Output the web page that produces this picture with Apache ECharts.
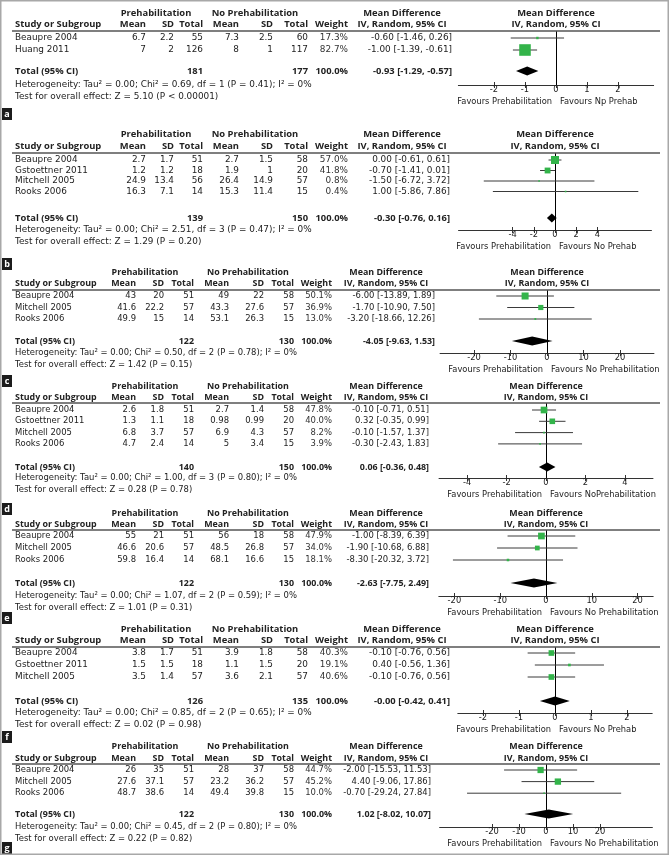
<!DOCTYPE html>
<html>
<head>
<meta charset="utf-8">
<script src="https://cdn.jsdelivr.net/npm/echarts@6/dist/echarts.min.js"></script>
<style>
html,body{margin:0;padding:0;background:#fff;}
#chart{width:669px;height:855px;}
</style>
</head>
<body>
<div id="chart"></div>
<script>
// ---------------- DATA ----------------
const panelLetters = ['a','b','c','d','e','f','g'];
const studies = [
  ['Beaupre 2004','Huang 2011'],
  ['Beaupre 2004','Gstoettner 2011','Mitchell 2005','Rooks 2006'],
  ['Beaupre 2004','Mitchell 2005','Rooks 2006'],
  ['Beaupre 2004','Gstoettner 2011','Mitchell 2005','Rooks 2006'],
  ['Beaupre 2004','Mitchell 2005','Rooks 2006'],
  ['Beaupre 2004','Gstoettner 2011','Mitchell 2005'],
  ['Beaupre 2004','Mitchell 2005','Rooks 2006']
];
const preMean = [[6.7,7],[2.7,1.2,24.9,16.3],[43,41.6,49.9],[2.6,1.3,6.8,4.7],[55,46.6,59.8],[3.8,1.5,3.5],[26,27.6,48.7]];
const preSD   = [[2.2,2],[1.7,1.2,13.4,7.1],[20,22.2,15],[1.8,1.1,3.7,2.4],[21,20.6,16.4],[1.7,1.5,1.4],[35,37.1,38.6]];
const preN    = [[55,126],[51,18,56,14],[51,57,14],[51,18,57,14],[51,57,14],[51,18,57],[51,57,14]];
const noMean  = [[7.3,8],[2.7,1.9,26.4,15.3],[49,43.3,53.1],[2.7,0.98,6.9,5],[56,48.5,68.1],[3.9,1.1,3.6],[28,23.2,49.4]];
const noSD    = [[2.5,1],[1.5,1,14.9,11.4],[22,27.6,26.3],[1.4,0.99,4.3,3.4],[18,26.8,16.6],[1.8,1.5,2.1],[37,36.2,39.8]];
const noN     = [[60,117],[58,20,57,15],[58,57,15],[58,20,57,15],[58,57,15],[58,20,57],[58,57,15]];
const weights = [[17.3,82.7],[57.0,41.8,0.8,0.4],[50.1,36.9,13.0],[47.8,40.0,8.2,3.9],[47.9,34.0,18.1],[40.3,19.1,40.6],[44.7,45.2,10.0]];
const md      = [[-0.60,-1.00],[0.00,-0.70,-1.50,1.00],[-6.00,-1.70,-3.20],[-0.10,0.32,-0.10,-0.30],[-1.00,-1.90,-8.30],[-0.10,0.40,-0.10],[-2.00,4.40,-0.70]];
const ciLo    = [[-1.46,-1.39],[-0.61,-1.41,-6.72,-5.86],[-13.89,-10.90,-18.66],[-0.71,-0.35,-1.57,-2.43],[-8.39,-10.68,-20.32],[-0.76,-0.56,-0.76],[-15.53,-9.06,-29.24]];
const ciHi    = [[0.26,-0.61],[0.61,0.01,3.72,7.86],[1.89,7.50,12.26],[0.51,0.99,1.37,1.83],[6.39,6.88,3.72],[0.56,1.36,0.56],[11.53,17.86,27.84]];
const totalPreN = [181,139,122,140,122,126,122];
const totalNoN  = [177,150,130,150,130,135,130];
const totalMd   = [-0.93,-0.30,-4.05,0.06,-2.63,-0.00,1.02];
const totalLo   = [-1.29,-0.76,-9.63,-0.36,-7.75,-0.42,-8.02];
const totalHi   = [-0.57,0.16,1.53,0.48,2.49,0.41,10.07];
const tau2  = [0,0,0,0,0,0,0];
const chi2  = [0.69,2.51,0.50,1.00,1.07,0.85,0.45];
const dfHet = [1,3,2,3,2,2,2];
const pHet  = [0.41,0.47,0.78,0.80,0.59,0.65,0.80];
const i2    = [0,0,0,0,0,0,0];
const zVal  = [5.10,1.29,1.42,0.28,1.01,0.02,0.22];
const pZ    = [0.00001,0.20,0.15,0.78,0.31,0.98,0.82];
const axisTicks = [[-2,-1,0,1,2],[-4,-2,0,2,4],[-20,-10,0,10,20],[-4,-2,0,2,4],[-20,-10,0,10,20],[-2,-1,0,1,2],[-20,-10,0,10,20]];
const axisMin = [-3.15,-9.1,-29.3,-5.43,-23.4,-2.7,-39.4];
const axisMax = [3.15,9.1,29.3,5.43,23.4,2.7,39.4];
const favoursLeft  = ['Favours Prehabilitation','Favours Prehabilitation','Favours Prehabilitation','Favours Prehabilitation','Favours Prehabilitation','Favours Prehabilitation','Favours Prehabilitation'];
const favoursRight = ['Favours Np Prehab','Favours No Prehab','Favours No Prehabilitation','Favours NoPrehabilitation','Favours No Prehabilitation','Favours No Prehab','Favours No Prehabilitation'];

// ---------------- LAYOUT (pixels / styles) ----------------
const colWide   = {study:15, preMean:146, preSD:174, preN:203, noMean:239, noSD:273, noN:308, weight:348, h1Pre:156, h1No:255, ciCenter:402, fs:8.9, fb:9.4};
const colNarrow = {study:15, preMean:136, preSD:164, preN:194, noMean:229, noSD:264, noN:294, weight:332, h1Pre:145, h1No:248, ciCenter:386, fs:8.45, fb:8.9};
const layout = [
  {cols:colWide,   h1:13,  h2:24,  line:31,  row0:38,  step:12,   total:71,  het:85,  label:114, zero:556, ppu:31,   ciR:452},
  {cols:colWide,   h1:134, h2:146, line:153, row0:160, step:10.5, total:218, het:230, label:264, zero:555, ppu:10.6, ciR:450},
  {cols:colNarrow, h1:272, h2:283, line:290, row0:296, step:11.5, total:341, het:353, label:381, zero:547, ppu:3.65, ciR:435},
  {cols:colNarrow, h1:386, h2:397, line:403, row0:410, step:11.3, total:467, het:478, label:509, zero:546, ppu:19.7, ciR:429},
  {cols:colNarrow, h1:513, h2:524, line:530, row0:536, step:12,   total:583, het:596, label:618, zero:546, ppu:4.58, ciR:429},
  {cols:colWide,   h1:629, h2:640, line:647, row0:653, step:12,   total:701, het:713, label:737, zero:555, ppu:36,   ciR:450},
  {cols:colNarrow, h1:746, h2:758, line:764, row0:770, step:11.6, total:814, het:827, label:848, zero:546, ppu:2.7,  ciR:431}
];
const FONT_N = '"DejaVu Sans", sans-serif';
const FONT_B = '"Open Sans", "Noto Sans", sans-serif';
const GREEN = '#33b44a';
const TXT = '#222';

function f2(v){ const neg = v < 0 || Object.is(v,-0); return (neg?'-':'') + Math.abs(v).toFixed(2); }
function ciText(m,l,h){ return f2(m) + ' [' + f2(l) + ', ' + f2(h) + ']'; }
function T(x,y,text,fs,align,bold,color,z){
  return {type:'text', x:x, y:y, silent:true, z:z||10,
    style:{text:text, fill:color||TXT, font:(bold?'bold ':'') + fs + 'px ' + (bold?FONT_B:FONT_N),
      textAlign:align||'left', textVerticalAlign:'middle', align:align||'left', verticalAlign:'middle'}};
}

const grids=[], xAxes=[], yAxes=[], series=[], graphics=[];

graphics.push({type:'rect', silent:true, z:20, shape:{x:0.75,y:0.75,width:667.5,height:853.5}, style:{fill:'none', stroke:'#a8a8a8', lineWidth:1.5}});

layout.forEach((L,p)=>{
  const C = L.cols, fs = C.fs, fb = C.fb;
  const gl = L.zero + axisMin[p]*L.ppu;
  const gw = (axisMax[p]-axisMin[p])*L.ppu;
  const pc = gl + gw/2;
  grids.push({left:gl, top:L.line, width:gw, height:L.het-L.line, containLabel:false});
  xAxes.push({gridIndex:p, type:'value', min:axisMin[p], max:axisMax[p], position:'bottom',
    axisLine:{show:true, onZero:false, lineStyle:{color:'#333', width:1}},
    axisTick:{show:true, customValues:axisTicks[p], length:3, inside:false, lineStyle:{color:'#333'}},
    axisLabel:{show:true, customValues:axisTicks[p], margin:1, fontSize:8.3, fontFamily:'DejaVu Sans', color:TXT, formatter:v=>String(v)},
    splitLine:{show:false}});
  xAxes.push({gridIndex:p, type:'value', min:axisMin[p], max:axisMax[p], position:'bottom',
    axisLine:{show:false, onZero:false},
    axisTick:{show:true, customValues:axisTicks[p], length:3, inside:true, lineStyle:{color:'#333'}},
    axisLabel:{show:false}, splitLine:{show:false}});
  yAxes.push({gridIndex:p, type:'value', inverse:true, show:false,
    min:(L.line-L.row0)/L.step, max:(L.het-L.row0)/L.step});
  const totalRow = (L.total-L.row0)/L.step;

  const sData = studies[p].map((s,i)=>[md[p][i], ciLo[p][i], ciHi[p][i], i, weights[p][i]]);
  series.push({type:'custom', xAxisIndex:2*p, yAxisIndex:p, data:sData, silent:true, z:5,
    renderItem:function(params, api){
      const m=api.value(0), lo=api.value(1), hi=api.value(2), r=api.value(3), w=api.value(4);
      const a=api.coord([lo,r]), b=api.coord([hi,r]), c=api.coord([m,r]);
      const s=Math.max(1.6, w*0.14);
      return {type:'group', children:[
        {type:'line', shape:{x1:a[0],y1:a[1],x2:b[0],y2:b[1]}, style:{stroke:'#3a3a3a', lineWidth:1}},
        {type:'rect', shape:{x:c[0]-s/2,y:c[1]-s/2,width:s,height:s}, style:{fill:GREEN}}
      ]};
    },
    markLine:{silent:true, symbol:['none','none'], label:{show:false}, lineStyle:{color:'#000', width:1, type:'solid'},
      data:[{xAxis:0}]}
  });
  series.push({type:'custom', xAxisIndex:2*p, yAxisIndex:p, silent:true, z:6,
    data:[[totalMd[p], totalLo[p], totalHi[p], totalRow]],
    renderItem:function(params, api){
      const m=api.value(0), lo=api.value(1), hi=api.value(2), r=api.value(3);
      const a=api.coord([lo,r]), b=api.coord([hi,r]), c=api.coord([m,r]);
      const h=4.5;
      return {type:'polygon', shape:{points:[[a[0],a[1]],[c[0],c[1]-h],[b[0],b[1]],[c[0],c[1]+h]]}, style:{fill:'#000'}};
    }
  });

  graphics.push(T(C.h1Pre, L.h1, 'Prehabilitation', fb, 'center', true));
  graphics.push(T(C.h1No, L.h1, 'No Prehabilitation', fb, 'center', true));
  graphics.push(T(C.ciCenter, L.h1, 'Mean Difference', fb, 'center', true));
  graphics.push(T(pc, L.h1, 'Mean Difference', fb, 'center', true));
  graphics.push(T(C.study, L.h2, 'Study or Subgroup', fb, 'left', true));
  graphics.push(T(C.preMean, L.h2, 'Mean', fb, 'right', true));
  graphics.push(T(C.preSD, L.h2, 'SD', fb, 'right', true));
  graphics.push(T(C.preN, L.h2, 'Total', fb, 'right', true));
  graphics.push(T(C.noMean, L.h2, 'Mean', fb, 'right', true));
  graphics.push(T(C.noSD, L.h2, 'SD', fb, 'right', true));
  graphics.push(T(C.noN, L.h2, 'Total', fb, 'right', true));
  graphics.push(T(C.weight, L.h2, 'Weight', fb, 'right', true));
  graphics.push(T(C.ciCenter, L.h2, 'IV, Random, 95% CI', fb, 'center', true));
  graphics.push(T(pc, L.h2, 'IV, Random, 95% CI', fb, 'center', true));
  graphics.push({type:'line', silent:true, z:9, shape:{x1:12, y1:L.line, x2:660, y2:L.line}, style:{stroke:'#555', lineWidth:1.5}});

  studies[p].forEach((s,i)=>{
    const y = L.row0 + i*L.step;
    graphics.push(T(C.study, y, s, fs, 'left'));
    graphics.push(T(C.preMean, y, String(preMean[p][i]), fs, 'right'));
    graphics.push(T(C.preSD, y, String(preSD[p][i]), fs, 'right'));
    graphics.push(T(C.preN, y, String(preN[p][i]), fs, 'right'));
    graphics.push(T(C.noMean, y, String(noMean[p][i]), fs, 'right'));
    graphics.push(T(C.noSD, y, String(noSD[p][i]), fs, 'right'));
    graphics.push(T(C.noN, y, String(noN[p][i]), fs, 'right'));
    graphics.push(T(C.weight, y, weights[p][i].toFixed(1)+'%', fs, 'right', false, '#333'));
    graphics.push(T(L.ciR, y, ciText(md[p][i], ciLo[p][i], ciHi[p][i]), fs, 'right'));
  });
  graphics.push(T(C.study, L.total, 'Total (95% CI)', fb, 'left', true));
  graphics.push(T(C.preN, L.total, String(totalPreN[p]), fb, 'right', true));
  graphics.push(T(C.noN, L.total, String(totalNoN[p]), fb, 'right', true));
  graphics.push(T(C.weight, L.total, '100.0%', fb, 'right', true));
  graphics.push(T(L.ciR, L.total, ciText(totalMd[p], totalLo[p], totalHi[p]), fb, 'right', true));
  const hetTxt = 'Heterogeneity: Tau² = ' + tau2[p].toFixed(2) + '; Chi² = ' + chi2[p].toFixed(2) + ', df = ' + dfHet[p] +
    ' (P = ' + pHet[p].toFixed(2) + '); I² = ' + i2[p] + '%';
  graphics.push(T(C.study, L.het, hetTxt, fs, 'left'));
  const pTxt = pZ[p] <= 0.00001 ? '< 0.00001' : '= ' + pZ[p].toFixed(2);
  graphics.push(T(C.study, L.het+12, 'Test for overall effect: Z = ' + zVal[p].toFixed(2) + ' (P ' + pTxt + ')', fs, 'left'));
  graphics.push(T(L.zero-4, L.het+17, favoursLeft[p], 8.3, 'right'));
  graphics.push(T(L.zero+4, L.het+17, favoursRight[p], 8.3, 'left'));
  graphics.push({type:'rect', silent:true, z:11, shape:{x:2, y:L.label-6, width:10, height:12}, style:{fill:'#1c1c1c'}});
  graphics.push(T(7, L.label, panelLetters[p], 9, 'center', true, '#fff', 12));
});

const chart = echarts.init(document.getElementById('chart'), null, {renderer:'canvas', devicePixelRatio:1});
chart.setOption({
  animation:false,
  backgroundColor:'#fff',
  grid:grids, xAxis:xAxes, yAxis:yAxes, series:series,
  graphic:{elements:graphics}
});
</script>
</body>
</html>
